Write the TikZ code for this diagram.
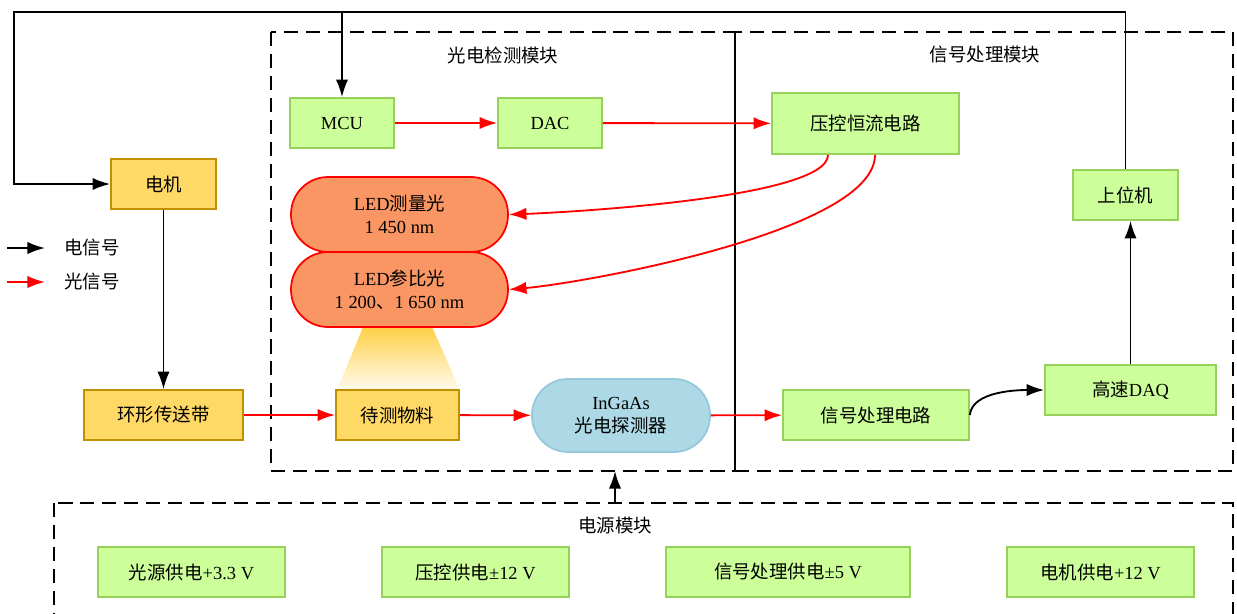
\documentclass[tikz,border=0pt]{standalone}
\usepackage{fontspec}
\setmainfont{Liberation Serif}
\newfontfamily\cjk{Noto Sans CJK SC}
\usetikzlibrary{arrows.meta}
\usetikzlibrary{positioning}

\definecolor{boxgreen}{RGB}{204,255,153}
\definecolor{edgegreen}{RGB}{150,210,90}
\definecolor{boxyellow}{RGB}{255,217,102}
\definecolor{edgeyellow}{RGB}{191,144,0}
\definecolor{ledorange}{RGB}{250,150,100}
\definecolor{boxblue}{RGB}{173,216,230}
\definecolor{edgeblue}{RGB}{150,200,220}
\definecolor{lighttop}{RGB}{255,208,70}
\definecolor{lightbot}{RGB}{255,251,238}

\tikzset{
  gbox/.style={draw=edgegreen,fill=boxgreen,line width=1pt,minimum height=1cm,align=center},
  ybox/.style={draw=edgeyellow,fill=boxyellow,line width=1pt,minimum height=1cm,align=center},
  ledbox/.style={draw=red,fill=ledorange,line width=1pt,rounded corners=0.74cm,
    minimum width=4.34cm,minimum height=1.5cm,align=center},
  detbox/.style={draw=edgeblue,fill=boxblue,line width=1pt,rounded corners=0.72cm,
    minimum width=3.56cm,minimum height=1.46cm,align=center},
  modbox/.style={draw,line width=1.3pt,dash pattern=on 8pt off 4.5pt},
  esig/.style={->,black,line width=1.05pt},
  osig/.style={->,red,line width=1.05pt}
}

\begin{document}
\begin{tikzpicture}[x=0.02cm,y=-0.02cm,>={Latex[length=10pt,width=7pt]},font=\fontsize{10.5}{13}\selectfont]
  \useasboundingbox (0,0) rectangle (1237,613);

  \draw[modbox] (271,32) rectangle (735,471);
  \draw[modbox] (735,32) rectangle (1233,471);
  \draw[modbox] (54,503) rectangle (1233,640);
  \node (optt) at (503,55) {\cjk 光电检测模块};
  \node (sigt) at (985,55) {\cjk 信号处理模块};
  \node (pwrt) at (615,525) {\cjk 电源模块};

  \shade[top color=lighttop,bottom color=lightbot]
    (363,327) -- (432,327) -- (460,390) -- (337,390) -- cycle;

  \node[ybox,minimum width=2.1cm] (motor) at (163.5,184) {\cjk 电机};
  \node[ybox,minimum width=3.18cm] (belt) at (163.5,415) {\cjk 环形传送带};
  \node[ybox,minimum width=2.46cm] (sample) at (397.5,415) {\cjk 待测物料};
  \node[gbox,minimum width=2.08cm] (mcu) at (342,123) {MCU};
  \node[gbox,minimum width=2.08cm] (dac) at (550,123) {DAC};
  \node[gbox,minimum width=3.74cm,minimum height=1.22cm] (vcc) at (865.5,123.5) {\cjk 压控恒流电路};
  \node[ledbox] (ledm) at (399.5,214.5) {LED{\cjk 测量光}\\1 450 nm};
  \node[ledbox] (ledr) at (399.5,289.5) {LED{\cjk 参比光}\\1 200{\cjk 、}1 650 nm};
  \node[detbox] (det) at (621,415.5) {InGaAs\\{\cjk 光电探测器}};
  \node[gbox,minimum width=3.72cm] (sig) at (876,415) {\cjk 信号处理电路};
  \node[gbox,minimum width=3.42cm] (daq) at (1130.5,390) {{\cjk 高速}DAQ};
  \node[gbox,minimum width=2.1cm] (host) at (1125.5,195) {\cjk 上位机};

  \node[gbox,minimum width=3.74cm] (p1) at (191.5,572) {{\cjk 光源供电}+3.3 V};
  \node[gbox,minimum width=3.74cm] (p2) at (475.5,572) {{\cjk 压控供电}±12 V};
  \node[gbox,minimum width=4.88cm] (p3) at (788,572) {{\cjk 信号处理供电}±5 V};
  \node[gbox,minimum width=3.74cm] (p4) at (1100.5,572) {{\cjk 电机供电}+12 V};

  \coordinate (tr) at (1125.5,12);
  \coordinate (tl) at (14,12);
  \draw[esig] (host.north) -- (tr) -- (tl) |- (motor.west);
  \draw[esig] (mcu.north |- tl) -- (mcu.north);
  \draw[esig] (motor) -- (belt);
  \draw[osig] (belt) -- (sample);
  \draw[osig] (sample) -- (det);
  \draw[osig] (det) -- (sig);
  \draw[osig] (mcu) -- (dac);
  \draw[osig] (dac) -- (vcc);
  \draw[osig] ([xshift=-0.75cm]vcc.south) to[out=-90,in=2,looseness=0.35] (ledm.east);
  \draw[osig] ([xshift=0.19cm]vcc.south) to[out=-90,in=5,looseness=0.5] (ledr.east);
  \draw[esig] (sig.east) to[out=85,in=180,looseness=0.8] (daq.west);
  \draw[esig] (daq.north) -- (daq.north |- host.south);

  \coordinate (pwr) at (615,503);
  \coordinate (optb) at (615,471);
  \draw[esig] (pwr) -- (optb);

  \coordinate (e1) at (7,248);
  \coordinate (e2) at (45,248);
  \coordinate (o1) at (7,282);
  \coordinate (o2) at (45,282);
  \draw[esig] (e1) -- (e2);
  \draw[osig] (o1) -- (o2);
  \node[anchor=west] (elab) at (58,248) {\cjk 电信号};
  \node[anchor=west] (olab) at (58,282) {\cjk 光信号};
\end{tikzpicture}
\end{document}
